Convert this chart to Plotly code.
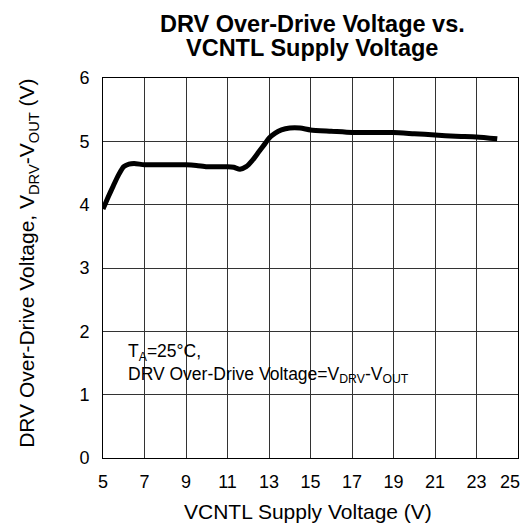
import plotly.graph_objects as go

# Data
vcntl = [5.0, 5.25, 5.5, 5.75, 6.0, 6.25, 6.5, 7.0, 8.0, 9.0, 9.5, 10.0, 10.5, 11.0, 11.3,
         11.6, 11.9, 12.2, 12.5, 12.8, 13.0, 13.3, 13.6, 14.0, 14.5, 15.0, 16.0, 17.0,
         18.0, 19.0, 20.0, 21.0, 22.0, 23.0, 24.0]
overdrive = [3.93, 4.12, 4.30, 4.47, 4.60, 4.64, 4.65, 4.63, 4.63, 4.63, 4.62, 4.60, 4.60,
             4.60, 4.59, 4.56, 4.60, 4.70, 4.83, 4.96, 5.05, 5.13, 5.18, 5.21, 5.21, 5.18,
             5.16, 5.14, 5.14, 5.14, 5.12, 5.10, 5.08, 5.07, 5.04]

x_ticks = [5, 7, 9, 11, 13, 15, 17, 19, 21, 23]
x_last_tick = [25]
y_ticks = [0, 1, 2, 3, 4, 5, 6]

title_line1 = "<b>DRV Over-Drive Voltage vs.</b>"
title_line2 = "<b>VCNTL Supply Voltage</b>"
x_title = "VCNTL Supply Voltage (V)"
y_title = "DRV Over-Drive Voltage, V<sub>DRV</sub>-V<sub>OUT</sub> (V)"
note_text = "T<sub>A</sub>=25°C,<br>DRV Over-Drive Voltage=V<sub>DRV</sub>-V<sub>OUT</sub>"

FONT = "Liberation Sans, Arial, sans-serif"

fig = go.Figure()
fig.add_trace(go.Scatter(
    x=vcntl, y=overdrive, mode="lines",
    line=dict(color="black", width=5, shape="spline", smoothing=0.6),
    showlegend=False, hoverinfo="skip",
))
# Transparent copy on the overlaid axis so that axis (carrying the last tick label) is drawn
fig.add_trace(go.Scatter(
    x=vcntl, y=overdrive, mode="lines", xaxis="x2", yaxis="y",
    line=dict(color="rgba(0,0,0,0)", width=0),
    showlegend=False, hoverinfo="skip",
))

fig.update_layout(
    width=525, height=529,
    margin=dict(l=103, r=5, t=78, b=71),
    paper_bgcolor="white", plot_bgcolor="white",
    font=dict(family=FONT, color="black", size=18),
    xaxis=dict(range=[5, 25], tickvals=x_ticks, showgrid=True, gridcolor="#333333",
               gridwidth=1, showline=True, linecolor="black", linewidth=1, mirror=True,
               zeroline=False, ticks="", ticklabelstandoff=7,
               tickfont=dict(size=18)),
    xaxis2=dict(range=[5, 25], overlaying="x", anchor="y", side="bottom",
                tickvals=x_last_tick, showgrid=False, showline=True,
                linecolor="rgba(0,0,0,0)", linewidth=1, zeroline=False,
                ticks="", ticklabelstandoff=7, ticklabelshift=-8,
                ticklabeloverflow="allow", tickfont=dict(size=18)),
    yaxis=dict(range=[0, 6], tickvals=y_ticks, showgrid=True, gridcolor="#333333",
               gridwidth=1, showline=True, linecolor="black", linewidth=1, mirror=True,
               zeroline=False, ticks="", ticklabelstandoff=9,
               tickfont=dict(size=18)),
    shapes=[dict(type="rect", xref="paper", yref="paper", x0=0.003, x1=0.808,
                 y0=0.195, y1=0.311, fillcolor="white", line=dict(width=0),
                 layer="between")],
    annotations=[
        dict(text=title_line1, xref="paper", yref="paper", x=0.504, y=1.143,
             xanchor="center", yanchor="middle", showarrow=False, borderpad=0,
             font=dict(size=23.5)),
        dict(text=title_line2, xref="paper", yref="paper", x=0.504, y=1.080,
             xanchor="center", yanchor="middle", showarrow=False, borderpad=0,
             font=dict(size=23.5)),
        dict(text=x_title, xref="paper", yref="paper", x=0.494, y=-0.142,
             xanchor="center", yanchor="middle", showarrow=False,
             font=dict(size=21)),
        dict(text=y_title, xref="paper", yref="paper", x=-0.1806, y=0.511,
             xanchor="center", yanchor="middle", showarrow=False, textangle=-90,
             font=dict(size=21)),
        dict(text=note_text, xref="paper", yref="paper", x=0.055, y=0.312,
             xanchor="left", yanchor="top", align="left", showarrow=False,
             font=dict(size=17.5)),
    ],
)

fig.write_html("out.html", config={"displayModeBar": False},
               post_script="document.body.style.margin='0';")
